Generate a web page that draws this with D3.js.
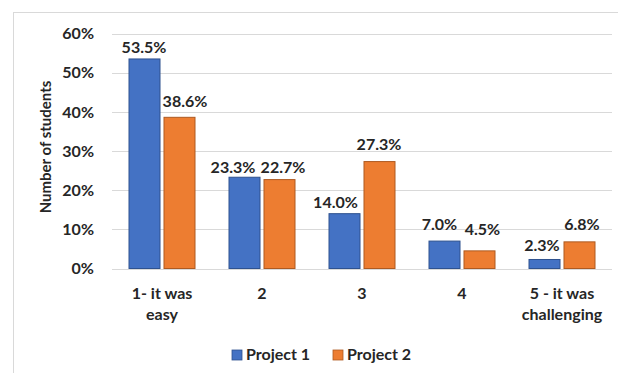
<!DOCTYPE html>
<html>
<head>
<meta charset="utf-8">
<script src="https://cdn.jsdelivr.net/npm/d3@7"></script>
<style>
  html, body { margin: 0; padding: 0; background: #fff; }
  svg { display: block; }
  text { font-family: Lato, "Open Sans", sans-serif; font-weight: 700; fill: #262626; }
</style>
</head>
<body>
<svg id="chart" width="618" height="373"></svg>
<script>
// Survey: how difficult was the project (share of students)
const categories = [["1- it was", "easy"], ["2"], ["3"], ["4"], ["5 - it was", "challenging"]];
const seriesNames = ["Project 1", "Project 2"];
const project1 = [53.5, 23.3, 14.0, 7.0, 2.3];
const project2 = [38.6, 22.7, 27.3, 4.5, 6.8];
const yTicks = [0, 10, 20, 30, 40, 50, 60];

// Small hand nudges so value labels sit where the author placed them
const labelNudgeX = [[-0.5, -11.5, -9, -5, -2.5], [5.5, 3.5, -0.5, 3, 2.5]];
const labelNudgeY = [[0.3, 2.1, 0.6, -5.1, -2.8], [-4, -0.3, -5.6, -9.9, -5.9]];

const colors = ["#4472C4", "#ED7D31"];
const strokes = ["#2F528F", "#AE5A21"];
const fontSize = "16px";

const svg = d3.select("#chart");

// chart area frame
svg.append("rect")
  .attr("x", 13.5).attr("y", 12.5)
  .attr("width", 700).attr("height", 500)
  .attr("fill", "#fff").attr("stroke", "#d9d9d9").attr("stroke-width", 1);

const plot = { left: 112, right: 612, top: 33.5, bottom: 268.5 };
const keys = categories.map((c, i) => i);

const x0 = d3.scaleBand().domain(keys).range([plot.left, plot.right])
  .paddingInner(0.34).paddingOuter(0.17);
const x1 = d3.scaleBand().domain([0, 1]).range([0, x0.bandwidth()]).paddingInner(0.114);
const y = d3.scaleLinear().domain([0, 60]).range([plot.bottom, plot.top]);

// gridlines
svg.append("g").selectAll("line").data(yTicks).join("line")
  .attr("x1", plot.left).attr("x2", plot.right)
  .attr("y1", d => Math.round(y(d)) + 0.5).attr("y2", d => Math.round(y(d)) + 0.5)
  .attr("stroke", "#d9d9d9").attr("stroke-width", 1);

// y axis tick labels
svg.append("g").selectAll("text").data(yTicks).join("text")
  .attr("x", 94).attr("y", d => y(d))
  .attr("dy", "0.36em")
  .attr("text-anchor", "end")
  .style("font-size", fontSize)
  .text(d => d + "%");

// y axis title
svg.append("text")
  .attr("transform", `translate(51,${(plot.top + plot.bottom) / 2 - 4}) rotate(-90)`)
  .attr("text-anchor", "middle")
  .style("font-size", "15px")
  .text("Number of students");

// bars
const series = [project1, project2];
series.forEach((vals, s) => {
  const g = svg.append("g");
  g.selectAll("rect").data(vals).join("rect")
    .attr("x", (d, i) => x0(i) + x1(s))
    .attr("y", d => y(d))
    .attr("width", x1.bandwidth())
    .attr("height", d => y(0) - y(d))
    .attr("fill", colors[s])
    .attr("stroke", strokes[s]).attr("stroke-width", 1);

  g.selectAll("text").data(vals).join("text")
    .attr("x", (d, i) => x0(i) + x1(s) + x1.bandwidth() / 2 + labelNudgeX[s][i])
    .attr("y", (d, i) => y(d) - 6 + labelNudgeY[s][i])
    .attr("text-anchor", "middle")
    .style("font-size", fontSize)
    .text(d => d.toFixed(1) + "%");
});

// category labels
const xl = svg.append("g");
categories.forEach((lines, i) => {
  const t = xl.append("text")
    .attr("x", x0(i) + x0.bandwidth() / 2)
    .attr("y", 299)
    .attr("text-anchor", "middle")
    .style("font-size", fontSize);
  lines.forEach((ln, j) => {
    t.append("tspan")
      .attr("x", x0(i) + x0.bandwidth() / 2)
      .attr("dy", j === 0 ? 0 : 21)
      .text(ln);
  });
});

// legend
const legendX = [232, 333];
const lg = svg.append("g");
seriesNames.forEach((name, s) => {
  lg.append("rect")
    .attr("x", legendX[s]).attr("y", 350)
    .attr("width", 10).attr("height", 10)
    .attr("fill", colors[s]).attr("stroke", strokes[s]).attr("stroke-width", 0.8);
  lg.append("text")
    .attr("x", legendX[s] + 14).attr("y", 360)
    .style("font-size", fontSize)
    .text(name);
});
</script>
</body>
</html>
